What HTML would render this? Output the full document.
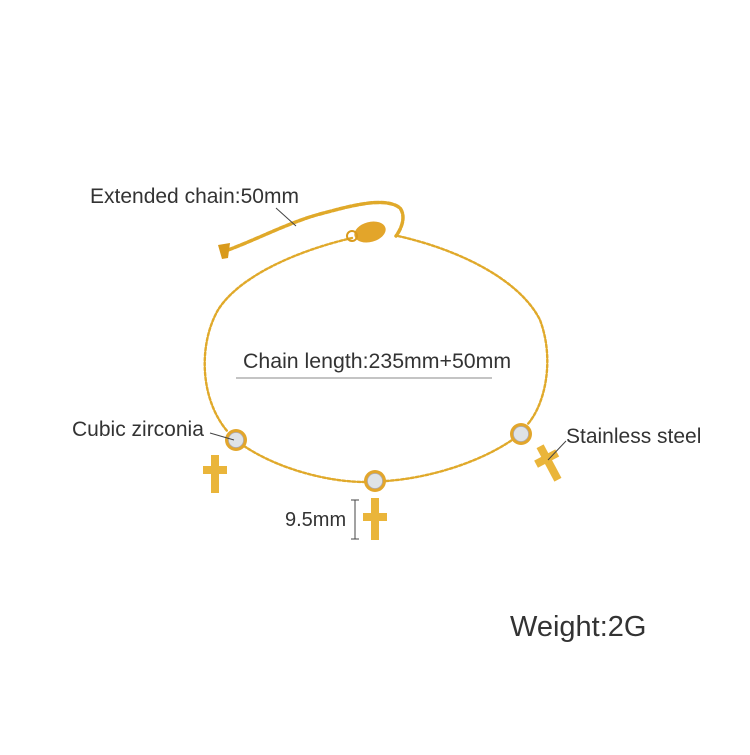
<!DOCTYPE html>
<html><head><style>
body{margin:0;background:#fff;}
.t{font-family:"Liberation Sans",sans-serif;fill:#333;}
</style></head><body>
<svg width="750" height="750" viewBox="0 0 750 750" xmlns="http://www.w3.org/2000/svg">
<rect width="750" height="750" fill="#fff"/>
<g fill="none" stroke="#e0a92a" stroke-linecap="round">
<path d="M228,250 C260,238 290,222 320,214 C350,206 385,196 400,208 C406,216 402,228 396,236" stroke-width="3.5" stroke-dasharray="5 2"/>
<path d="M352,238 C300,250 240,275 218,310 C198,345 200,400 228,432" stroke-width="2.4" stroke-dasharray="3 2"/>
<path d="M244,446 C280,470 330,482 365,482" stroke-width="2.4" stroke-dasharray="3 2"/>
<path d="M386,481 C430,478 480,462 512,440" stroke-width="2.4" stroke-dasharray="3 2"/>
<path d="M398,236 C460,250 520,280 540,320 C555,360 545,405 527,425" stroke-width="2.4" stroke-dasharray="3 2"/>
</g>
<path d="M218,245 L230,243 L228,258 L222,259 Z" fill="#d99a1c"/>
<ellipse cx="370" cy="232" rx="16" ry="10" fill="#e3a52a" transform="rotate(-15 370 232)"/>
<circle cx="352" cy="236" r="5" fill="none" stroke="#d99a1c" stroke-width="2"/>
<g>
<circle cx="236" cy="440" r="11" fill="#e2a62c"/><circle cx="236" cy="440" r="7.5" fill="#dfe3e6" stroke="#aab" stroke-width="0.7"/>
<circle cx="375" cy="481" r="11" fill="#e2a62c"/><circle cx="375" cy="481" r="7.5" fill="#dfe3e6" stroke="#aab" stroke-width="0.7"/>
<circle cx="521" cy="434" r="11" fill="#e2a62c"/><circle cx="521" cy="434" r="7.5" fill="#dfe3e6" stroke="#aab" stroke-width="0.7"/>
</g>
<g fill="#eab53a">
<rect x="211" y="455" width="8" height="38"/><rect x="203" y="466" width="24" height="8"/>
<rect x="371" y="498" width="8" height="42"/><rect x="363" y="513" width="24" height="8"/>
<g transform="rotate(-28 549 463)"><rect x="545" y="444" width="8" height="38"/><rect x="537" y="454" width="24" height="8"/></g>
</g>
<g stroke="#444" stroke-width="1" fill="none">
<line x1="276" y1="208" x2="296" y2="226"/>
<line x1="210" y1="433" x2="234" y2="440"/>
<line x1="566" y1="441" x2="548" y2="460"/>
<line x1="236" y1="378" x2="492" y2="378" stroke="#888"/>
<line x1="355" y1="500" x2="355" y2="539"/>
<line x1="351" y1="500" x2="359" y2="500"/>
<line x1="351" y1="539" x2="359" y2="539"/>
</g>
<text class="t" x="90" y="203" font-size="21">Extended chain:50mm</text>
<text class="t" x="243" y="368" font-size="21.3">Chain length:235mm+50mm</text>
<text class="t" x="72" y="436" font-size="21">Cubic zirconia</text>
<text class="t" x="566" y="443" font-size="21">Stainless steel</text>
<text class="t" x="285" y="526" font-size="20">9.5mm</text>
<text class="t" x="510" y="636" font-size="29">Weight:2G</text>
</svg>
</body></html>
